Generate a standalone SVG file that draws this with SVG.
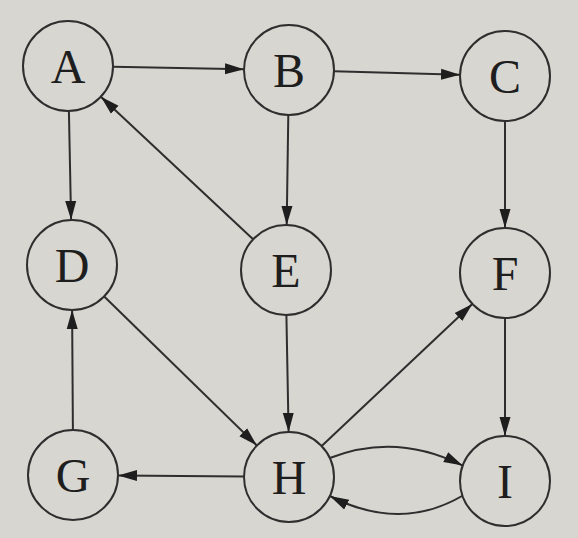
<svg xmlns="http://www.w3.org/2000/svg" width="578" height="538" viewBox="0 0 578 538">
<style>
.n circle{fill:none;stroke:#2e2e2e;stroke-width:2}
.n text{font-family:"Liberation Serif","DejaVu Serif",serif;font-size:48px;fill:#1e1e1e;text-anchor:middle}
.e path{fill:none;stroke:#2e2e2e;stroke-width:2;marker-end:url(#ah)}
</style>
<defs>
<marker id="ah" markerUnits="userSpaceOnUse" markerWidth="20" markerHeight="12" refX="19" refY="6" orient="auto">
<path d="M0,0.5 L19,6 L0,11.5 Z" fill="#1e1e1e"/>
</marker>
</defs>
<rect width="578" height="538" fill="#d8d6d0"/>
<g id="connectors" class="e">
<path d="M113,66.8 L244,69.2"/>
<path d="M334,71.2 L460,74.8"/>
<path d="M68.9,111 L71.1,220"/>
<path d="M288.3,115 L286.7,225"/>
<path d="M505,121 L505,228"/>
<path d="M253.1,239.3 L100.9,96.7"/>
<path d="M104.2,296.5 L256.8,445.5"/>
<path d="M286.4,315 L288.6,432"/>
<path d="M321.7,446.1 L472.3,303.9"/>
<path d="M505,318 L505,436"/>
<path d="M244,476.6 L118,475.4"/>
<path d="M72.9,430 L72.1,310"/>
<path d="M329.8,458 Q396,432 462.7,465.6"/>
<path d="M462,496 Q400,532 329.8,496"/>
</g>
<g id="A" class="n"><circle cx="68" cy="66" r="45"/><text x="68" y="83">A</text></g>
<g id="B" class="n"><circle cx="289" cy="70" r="45"/><text x="289" y="87">B</text></g>
<g id="C" class="n"><circle cx="505" cy="76" r="45"/><text x="505" y="93">C</text></g>
<g id="D" class="n"><circle cx="72" cy="265" r="45"/><text x="72" y="282">D</text></g>
<g id="E" class="n"><circle cx="286" cy="270" r="45"/><text x="286" y="287">E</text></g>
<g id="F" class="n"><circle cx="505" cy="273" r="45"/><text x="505" y="290">F</text></g>
<g id="G" class="n"><circle cx="73" cy="475" r="45"/><text x="73" y="492">G</text></g>
<g id="H" class="n"><circle cx="289" cy="477" r="45"/><text x="289" y="494">H</text></g>
<g id="I" class="n"><circle cx="505" cy="481" r="45"/><text x="505" y="498">I</text></g>
</svg>
